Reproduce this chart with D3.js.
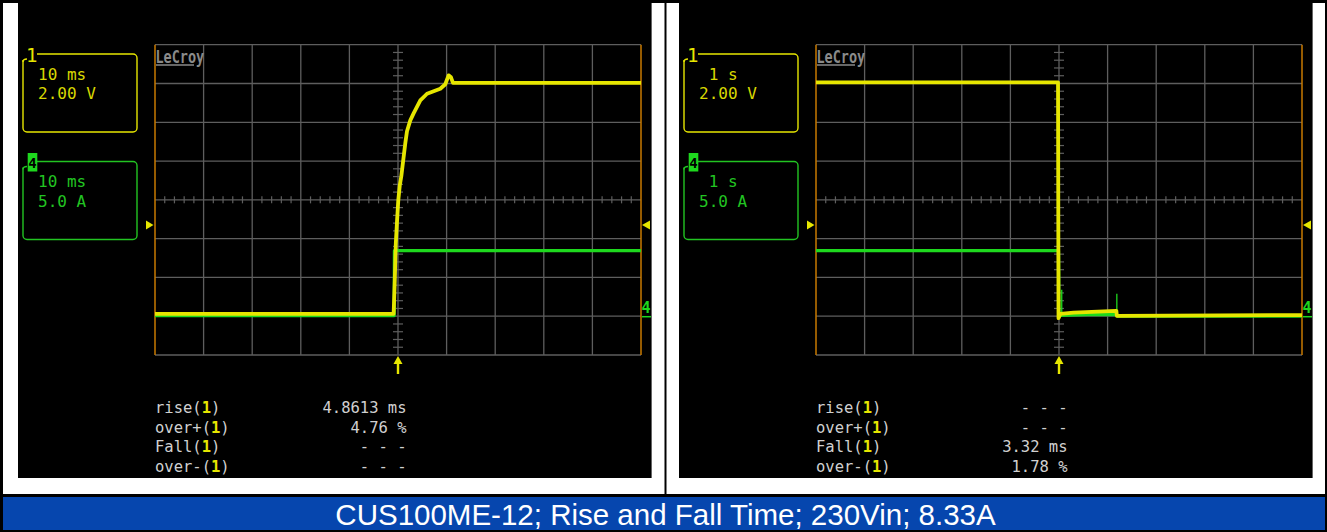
<!DOCTYPE html>
<html><head><meta charset="utf-8">
<script src="https://cdn.jsdelivr.net/npm/d3@7"></script>
<style>body{margin:0;background:#fff}svg{display:block}text{white-space:pre}</style>
</head><body>
<svg id="c" width="1327" height="532"></svg>
<script>
// ---------- data ----------
// left screen: time in ms (10 ms/div), voltage in V (2 V/div), current in A (5 A/div)
const riseVoltage = [[-50,0.12],[-0.9,0.12],[-0.66,1.86],[-0.45,3.76],[-0.21,4.85],[0.06,5.98],[0.37,6.75],[0.68,7.22],[1.15,8.2],[1.5,8.92],[1.85,9.54],[2.53,10.1],[3.21,10.46],[4.59,11.13],[5.97,11.47],[7.33,11.6],[8.7,11.73],[9.73,11.96],[10.41,12.42],[10.9,12.32],[11.32,12.03],[50,12.03]];
const riseCurrent = [[-50,0.08],[-0.78,0.08],[-0.74,8.45],[50,8.45]];
// right screen: time in s (1 s/div)
const fallVoltage = [[-5,12.06],[-0.02,12.06],[-0.01,-0.1],[0.03,0.12],[0.3,0.18],[0.8,0.24],[1.18,0.28],[1.19,0.02],[5,0.06]];
const fallCurrent = [[-5,8.45],[-0.01,8.45],[0,0.0],[0.05,0.12],[0.6,0.2],[1.18,0.22],[1.2,0.0],[5,0.02]];
const fallCurrentSpikes = [[0.056,3.4],[1.19,2.9]];
const riseTimeDomain = [-50, 50];
const fallTimeDomain = [-5, 5];
const voltageDomain = [-2, 14];
const currentDomain = [-5, 35];
const triggerLevel = 4.7;
const riseBoxText = [["10 ms","2.00 V"],["10 ms","5.0 A"]];
const fallBoxText = [[" 1 s","2.00 V"],[" 1 s","5.0 A"]];
const measureNames = ["rise","over+","Fall","over-"];
const riseValues = ["4.8613 ms","4.76 %","- - -","- - -"];
const fallValues = ["- - -","- - -","3.32 ms","1.78 %"];
const title = "CUS100ME-12; Rise and Fall Time; 230Vin; 8.33A";

// ---------- styles ----------
const YEL = "#e6e600", YEL_T = "#d8d800", GRN = "#1ed81e", GRN_T = "#22c422";
const GRID = "#5e5e5e", ORANGE = "#c87a00", MONO = "'DejaVu Sans Mono', monospace";

const svg = d3.select("#c");
svg.append("rect").attr("width",1327).attr("height",532).attr("fill","#000");
svg.append("rect").attr("x",3).attr("y",3).attr("width",1322).attr("height",491).attr("fill","#fff");
svg.append("rect").attr("x",664.5).attr("y",0).attr("width",2).attr("height",494).attr("fill","#000");
svg.append("rect").attr("x",3).attr("y",497).attr("width",1322).attr("height",33).attr("fill","#0646ae");
svg.append("text").attr("x",665.5).attr("y",524.5).attr("text-anchor","middle")
  .attr("font-family","'Liberation Sans', Arial, sans-serif").attr("font-size",29.5)
  .attr("fill","#fff").text(title);

const panels = [
  {off:0, tDom:riseTimeDomain, volt:riseVoltage, cur:riseCurrent, spikes:[], box:riseBoxText, vals:riseValues},
  {off:661, tDom:fallTimeDomain, volt:fallVoltage, cur:fallCurrent, spikes:fallCurrentSpikes, box:fallBoxText, vals:fallValues}
];

const gx0 = 155, gx1 = 641, gy0 = 44.7, gy1 = 355;

panels.forEach(p => {
  const g = svg.append("g").attr("transform", `translate(${p.off},0)`);
  g.append("rect").attr("x",18).attr("y",3).attr("width",633.6).attr("height",475).attr("fill","#000");

  const x = d3.scaleLinear().domain(p.tDom).range([gx0, gx1]);
  const yV = d3.scaleLinear().domain(voltageDomain).range([gy1, gy0]);
  const yI = d3.scaleLinear().domain(currentDomain).range([gy1, gy0]);
  const tStep = (p.tDom[1]-p.tDom[0])/10;
  const vStep = (voltageDomain[1]-voltageDomain[0])/8;
  const tMid = (p.tDom[0]+p.tDom[1])/2, vMid = (voltageDomain[0]+voltageDomain[1])/2;

  // grid
  const gridT = d3.range(0,11).map(i => p.tDom[0]+i*tStep);
  const gridV = d3.range(0,9).map(i => voltageDomain[0]+i*vStep);
  g.selectAll(".gh").data(gridV).join("line")
    .attr("x1",gx0).attr("x2",gx1).attr("y1",d=>yV(d)).attr("y2",d=>yV(d))
    .attr("stroke",GRID).attr("stroke-width",1.3);
  g.selectAll(".gv").data(gridT.slice(1,-1)).join("line")
    .attr("x1",d=>x(d)).attr("x2",d=>x(d)).attr("y1",gy0).attr("y2",gy1)
    .attr("stroke",GRID).attr("stroke-width",1.3);
  g.selectAll(".ge").data([p.tDom[0],p.tDom[1]]).join("line")
    .attr("x1",d=>x(d)).attr("x2",d=>x(d)).attr("y1",gy0).attr("y2",gy1)
    .attr("stroke",ORANGE).attr("stroke-width",1.5);
  // minor ticks on centre axes
  const minorT = d3.range(0,51).map(i => p.tDom[0]+i*tStep/5).filter((d,i)=>i%5!==0);
  const minorV = d3.range(0,41).map(i => voltageDomain[0]+i*vStep/5).filter((d,i)=>i%5!==0);
  g.selectAll(".mt").data(minorT).join("line")
    .attr("x1",d=>x(d)).attr("x2",d=>x(d)).attr("y1",yV(vMid)-3.5).attr("y2",yV(vMid)+3.5)
    .attr("stroke",GRID).attr("stroke-width",1.2);
  g.selectAll(".mv").data(minorV).join("line")
    .attr("x1",x(tMid)-5).attr("x2",x(tMid)+5).attr("y1",d=>yV(d)).attr("y2",d=>yV(d))
    .attr("stroke",GRID).attr("stroke-width",1.2);

  // LeCroy logo
  g.append("text").attr("x",0).attr("y",0).attr("font-family",MONO).attr("font-weight","bold")
    .attr("font-size",13.5).attr("fill","#8a8a8a").attr("transform","translate(155.5,62.5) scale(1,1.35)")
    .text("LeCroy");
  g.append("line").attr("x1",156).attr("x2",194).attr("y1",65).attr("y2",65)
    .attr("stroke","#8a8a8a").attr("stroke-width",1.6);

  // traces
  const lineI = d3.line().x(d=>x(d[0])).y(d=>yI(d[1]));
  const lineV = d3.line().x(d=>x(d[0])).y(d=>yV(d[1]));
  g.append("path").attr("d",lineI(p.cur)).attr("fill","none").attr("stroke",GRN)
    .attr("stroke-width",3.2).attr("stroke-linejoin","round");
  g.selectAll(".sp").data(p.spikes).join("line")
    .attr("x1",d=>x(d[0])).attr("x2",d=>x(d[0])).attr("y1",yI(0)).attr("y2",d=>yI(d[1]))
    .attr("stroke",GRN).attr("stroke-width",1.3);
  g.append("path").attr("d",lineV(p.volt)).attr("fill","none").attr("stroke",YEL)
    .attr("stroke-width",3.8).attr("stroke-linejoin","round");

  // trigger level markers
  const ty = yV(triggerLevel);
  g.append("path").attr("d",`M${gx0-9},${ty-4.5}L${gx0-1.5},${ty}L${gx0-9},${ty+4.5}Z`).attr("fill",YEL);
  g.append("path").attr("d",`M${gx1+9},${ty-4.5}L${gx1+1},${ty}L${gx1+9},${ty+4.5}Z`).attr("fill",YEL);
  // trigger position arrow
  const tx = x(tMid);
  g.append("path").attr("d",`M${tx-4.5},${364}L${tx},${356}L${tx+4.5},${364}Z`).attr("fill",YEL);
  g.append("rect").attr("x",tx-1.2).attr("y",362).attr("width",2.4).attr("height",12).attr("fill",YEL);
  // channel 4 ground marker
  g.append("text").attr("x",gx1+5).attr("y",yI(0)-3).attr("text-anchor","middle").attr("font-family",MONO)
    .attr("font-weight","bold").attr("font-size",15).attr("fill",GRN).text("4");
  g.append("line").attr("x1",gx1+1).attr("x2",gx1+10).attr("y1",yI(0)+0.5).attr("y2",yI(0)+0.5)
    .attr("stroke",GRN).attr("stroke-width",1.5);

  // channel boxes
  const boxes = [{y:54, col:YEL, tcol:YEL_T}, {y:161.5, col:GRN_T, tcol:GRN_T}];
  boxes.forEach((b,i) => {
    g.append("rect").attr("x",23).attr("y",b.y).attr("width",114).attr("height",78)
      .attr("rx",4).attr("fill","none").attr("stroke",b.col).attr("stroke-width",1.4);
    g.append("rect").attr("x",20).attr("y",b.y-8).attr("width",17).attr("height",14).attr("fill","#000");
    if (i===0) {
      g.append("text").attr("x",26).attr("y",b.y+8).attr("font-family",MONO).attr("font-size",19)
        .attr("fill",b.col).text("1");
      g.append("path").attr("d",`M23,${b.y+8}Q23,${b.y+5} 27,${b.y+5}`).attr("fill","none")
        .attr("stroke",b.col).attr("stroke-width",1.4);
    } else {
      g.append("rect").attr("x",27.7).attr("y",b.y-8.5).attr("width",9.6).attr("height",18.5).attr("fill",GRN);
      g.append("text").attr("x",32.5).attr("y",b.y+6).attr("text-anchor","middle").attr("font-family",MONO)
        .attr("font-weight","bold").attr("font-size",14).attr("fill","#000").text("4");
      g.append("path").attr("d",`M23,${b.y+8}Q23,${b.y+5} 27,${b.y+5}`).attr("fill","none")
        .attr("stroke",b.col).attr("stroke-width",1.4);
    }
    g.append("text").attr("x",38).attr("y",b.y+25.5).attr("font-family",MONO).attr("font-size",16)
      .attr("fill",b.tcol).text(p.box[i][0]);
    g.append("text").attr("x",38).attr("y",b.y+45).attr("font-family",MONO).attr("font-size",16)
      .attr("fill",b.tcol).text(p.box[i][1]);
  });

  // measurements
  const rowsY = [413, 432.5, 452, 471.5];
  measureNames.forEach((m,i) => {
    const t = g.append("text").attr("x",155).attr("y",rowsY[i]).attr("font-family",MONO)
      .attr("font-size",15.5).attr("fill","#d0d0d0");
    t.append("tspan").text(m+"(");
    t.append("tspan").attr("fill",YEL).attr("font-weight","bold").text("1");
    t.append("tspan").text(")");
    g.append("text").attr("x",406.5).attr("y",rowsY[i]).attr("text-anchor","end").attr("font-family",MONO)
      .attr("font-size",15.5).attr("fill","#d0d0d0").text(p.vals[i]);
  });
});
</script>
</body></html>
